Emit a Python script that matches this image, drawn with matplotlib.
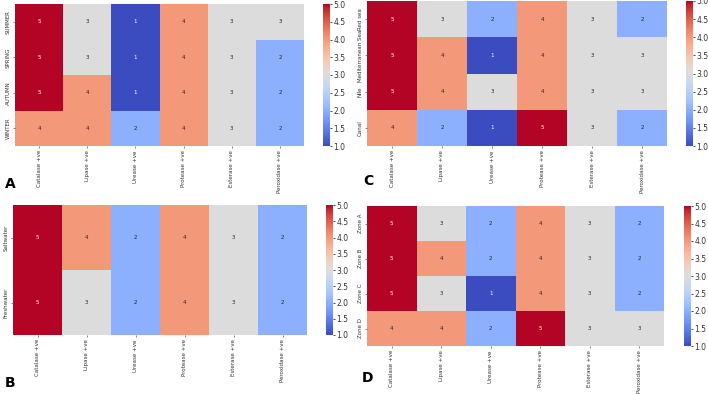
import matplotlib
matplotlib.use("Agg")
import matplotlib.pyplot as plt
import seaborn as sns
import numpy as np

enzymes = ["Catalase +ve", "Lipase +ve", "Urease +ve", "Protease +ve", "Esterase +ve", "Peroxidase +ve"]

seasons = ["SUMMER", "SPRING", "AUTUMN", "WINTER"]
season_vals = [
    [5, 3, 1, 4, 3, 3],
    [5, 3, 1, 4, 3, 2],
    [5, 4, 1, 4, 3, 2],
    [4, 4, 2, 4, 3, 2],
]

sites = ["Red sea", "Mediterranean Sea", "Nile", "Canal"]
site_vals = [
    [5, 3, 2, 4, 3, 2],
    [5, 4, 1, 4, 3, 3],
    [5, 4, 3, 4, 3, 3],
    [4, 2, 1, 5, 3, 2],
]

waters = ["Saltwater", "Freshwater"]
water_vals = [
    [5, 4, 2, 4, 3, 2],
    [5, 3, 2, 4, 3, 2],
]

zones = ["Zone A", "Zone B", "Zone C", "Zone D"]
zone_vals = [
    [5, 3, 2, 4, 3, 2],
    [5, 4, 2, 4, 3, 2],
    [5, 3, 1, 4, 3, 2],
    [4, 4, 2, 5, 3, 3],
]

W, H = 708, 394
fig = plt.figure(figsize=(W / 100, H / 100), dpi=100)


def box(x0, y0, x1, y1):
    return [x0 / W, 1 - y1 / H, (x1 - x0) / W, (y1 - y0) / H]


panels = [
    ("A", season_vals, seasons, box(15, 4, 304, 146), box(323, 4, 330, 146), (5, 188)),
    ("C", site_vals, sites, box(367, 1, 667, 146), box(686, 1, 693, 146), (363, 185)),
    ("B", water_vals, waters, box(13, 205, 307, 335), box(326, 205, 333, 335), (5, 387)),
    ("D", zone_vals, zones, box(367, 206, 664, 346), box(684, 206, 691, 346), (362, 382)),
]

for letter, vals, rows, hbox, cbox, lpos in panels:
    ax = fig.add_axes(hbox)
    cax = fig.add_axes(cbox)
    sns.heatmap(np.array(vals), ax=ax, cbar_ax=cax, cmap="coolwarm", vmin=1, vmax=5,
                annot=True, fmt="d", annot_kws={"fontsize": 4.0},
                xticklabels=enzymes, yticklabels=rows)
    ax.tick_params(axis="both", labelsize=4.0, length=1.5, width=0.5, colors="#555555",
                   labelcolor="#333333", pad=1.5)
    ax.set_xticklabels(enzymes, rotation=90)
    ax.set_yticklabels(rows, rotation=90, va="center")
    cax.tick_params(labelsize=5.5, length=1.5, width=0.5, labelcolor="#333333", pad=1)
    fig.text(lpos[0] / W, 1 - lpos[1] / H, letter, fontsize=10, fontweight="bold",
             ha="left", va="baseline")

fig.savefig("out.png", dpi=100)
